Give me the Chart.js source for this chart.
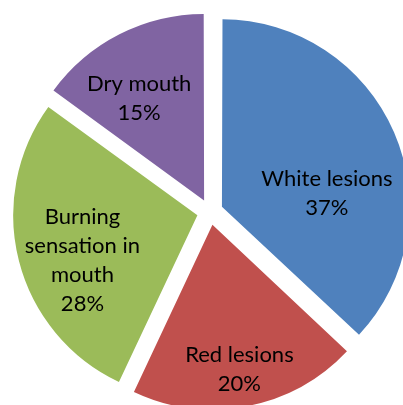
<!DOCTYPE html>
<html>
<head>
<meta charset="utf-8">
<script src="https://cdn.jsdelivr.net/npm/chart.js@4"></script>
<style>
  html, body { margin: 0; padding: 0; background: #ffffff; overflow: hidden; width: 403px; height: 405px; }
  #c { position: absolute; left: 0; top: 0; }
</style>
</head>
<body>
<canvas id="c" width="420" height="424"></canvas>
<script>
// ---- data ----
const categories = ["White lesions", "Red lesions", ["Burning", "sensation in", "mouth"], "Dry mouth"];
const percentValues = [37, 20, 28, 15];
const sliceColors = ["#4F81BD", "#C0504D", "#9BBB59", "#8064A2"];

// label placement relative to each exploded slice: angle shift (deg) and radius fraction
const labelAngleShift = [16.3, 0.2, -7.2, -5.5];
const labelRadiusFrac = [0.575, 0.797, 0.672, 0.657];

const labelPlugin = {
  id: 'sliceLabels',
  afterDatasetsDraw(chart) {
    const ctx = chart.ctx;
    const meta = chart.getDatasetMeta(0);
    ctx.save();
    ctx.fillStyle = '#000000';
    ctx.font = '22px Lato, "Liberation Sans", sans-serif';
    ctx.textAlign = 'center';
    ctx.textBaseline = 'middle';
    const lineH = 29;
    meta.data.forEach((arc, i) => {
      const p = arc.getProps(['x', 'y', 'startAngle', 'endAngle', 'outerRadius'], true);
      const mid = (p.startAngle + p.endAngle) / 2;
      const off = (arc.options.offset || 0) / 4;
      const cx = p.x + Math.cos(mid) * off;
      const cy = p.y + Math.sin(mid) * off;
      const a = mid + labelAngleShift[i] * Math.PI / 180;
      const r = p.outerRadius * labelRadiusFrac[i];
      const lx = cx + Math.cos(a) * r;
      const ly = cy + Math.sin(a) * r;
      const cat = categories[i];
      const lines = (Array.isArray(cat) ? cat.slice() : [cat]);
      lines.push(percentValues[i] + '%');
      const top = ly - (lines.length - 1) * lineH / 2;
      lines.forEach((t, k) => ctx.fillText(t, lx, top + k * lineH));
    });
    ctx.restore();
  }
};

new Chart(document.getElementById('c'), {
  type: 'pie',
  data: {
    labels: categories,
    datasets: [{
      data: percentValues,
      backgroundColor: sliceColors,
      borderWidth: 0,
      offset: 52
    }]
  },
  options: {
    responsive: false,
    animation: false,
    radius: 184,
    layout: { padding: 0 },
    plugins: {
      legend: { display: false },
      tooltip: { enabled: false }
    }
  },
  plugins: [labelPlugin]
});
</script>
</body>
</html>
